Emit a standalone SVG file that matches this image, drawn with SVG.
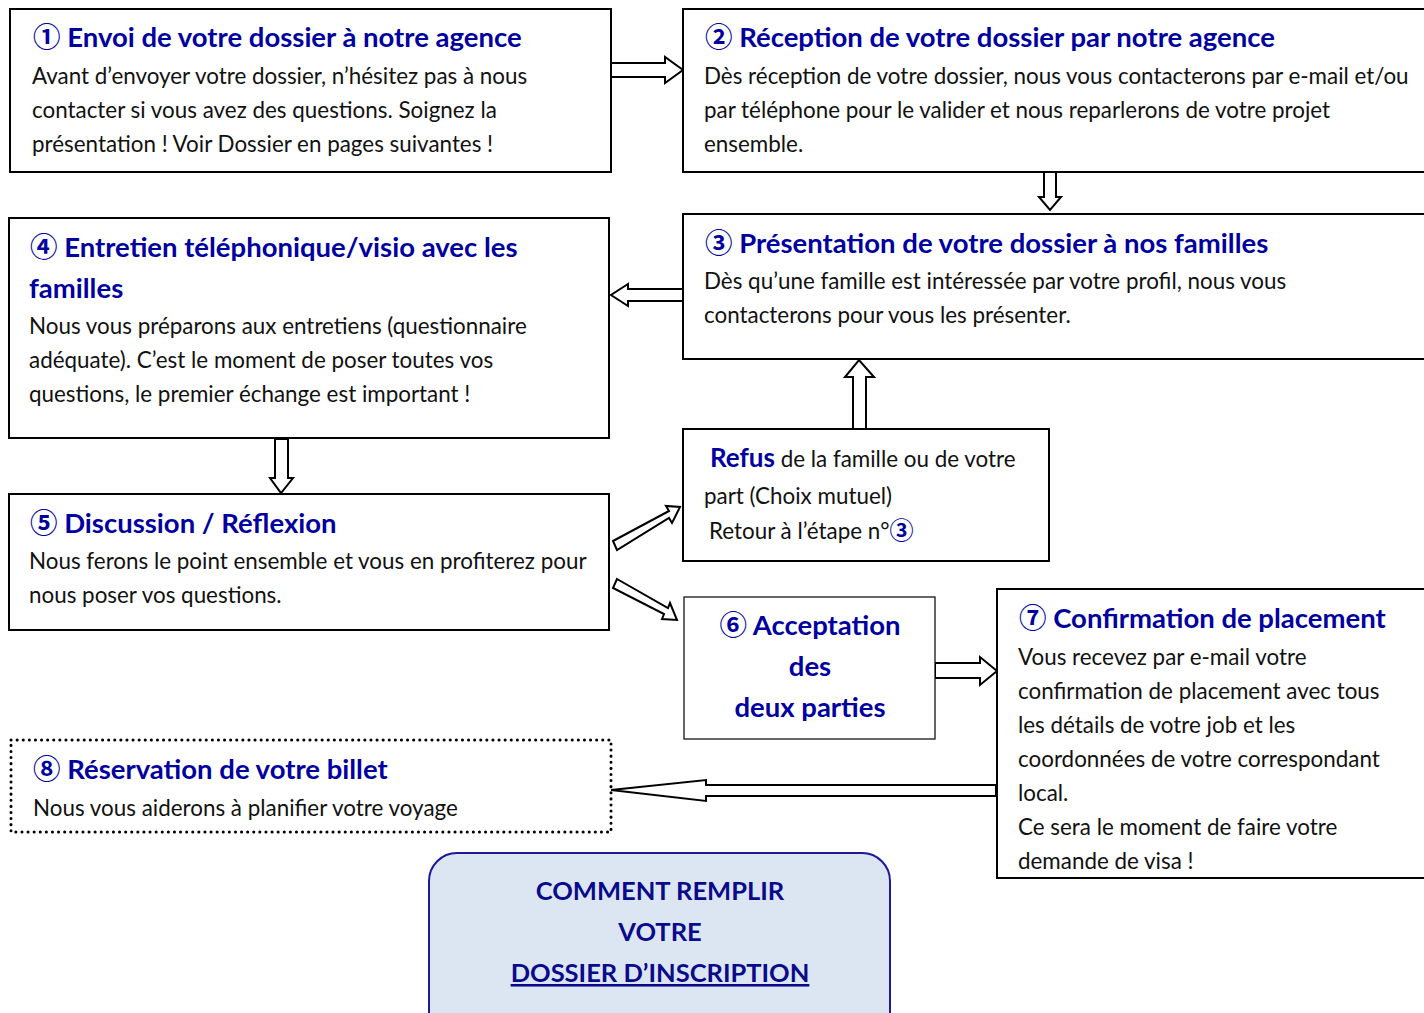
<svg xmlns="http://www.w3.org/2000/svg" width="1424" height="1013" viewBox="0 0 1424 1013">
<style>
.box{fill:#fff;stroke:#000;stroke-width:2}
.dot{fill:#fff;stroke:#000;stroke-width:3;stroke-dasharray:0.1 6;stroke-linecap:round}
.t{font-family:Lato,"Liberation Sans",sans-serif;font-weight:bold;font-size:27.5px;fill:#0000a0}
.b{font-family:Lato,"Liberation Sans",sans-serif;font-size:22.4px;fill:#111}
.c{font-family:"Noto Sans CJK JP","DejaVu Sans",sans-serif;font-weight:bold}
.arr{fill:#fff;stroke:#000;stroke-width:2;stroke-linejoin:miter}
.fin{font-family:Lato,"Liberation Sans",sans-serif;font-weight:bold;font-size:25.5px;fill:#0a0a8c;text-anchor:middle}
</style>
<rect width="1424" height="1013" fill="#fff"/>
<g id="connectors">
<polygon class="arr" points="611,63 665,63 665,57 683,70 665,83 665,77 611,77"/>
<polygon class="arr" points="1044,172 1056,172 1056,197 1061,197 1050,210 1039,197 1044,197"/>
<polygon class="arr" points="683,289 628,289 628,284 611,295 628,306 628,301 683,301"/>
<polygon class="arr" points="275,439 288,439 288,478 293,478 281,493 270,478 275,478"/>
<polygon class="arr" points="853,429 866,429 866,377 874,377 859,360 845,377 853,377"/>
<polygon class="arr" points="613,541 669,511 666,506 680,507 672,523 669,518 617,550"/>
<polygon class="arr" points="617,579 668,608 670,603 677,620 662,619 664,614 613,588"/>
<polygon class="arr" points="935,663 980,663 980,657 997,671 980,685 980,678 935,678"/>
<polygon class="arr" points="996,785 706,785 706,780 611,790 706,801 706,796 996,796"/>
</g>
<g id="n1">
<rect class="box" x="10" y="9" width="601" height="163"/>
<text class="t" x="33" y="47"><tspan class="c">①</tspan> Envoi de votre dossier à notre agence</text>
<text class="b" x="32" y="84">Avant d’envoyer votre dossier, n’hésitez pas à nous</text>
<text class="b" x="32" y="118">contacter si vous avez des questions. Soignez la</text>
<text class="b" x="32" y="152">présentation ! Voir Dossier en pages suivantes !</text>
</g>
<g id="n2">
<rect class="box" x="683" y="9" width="760" height="163"/>
<text class="t" x="705" y="47"><tspan class="c">②</tspan> Réception de votre dossier par notre agence</text>
<text class="b" x="704" y="84">Dès réception de votre dossier, nous vous contacterons par e-mail et/ou</text>
<text class="b" x="704" y="118">par téléphone pour le valider et nous reparlerons de votre projet</text>
<text class="b" x="704" y="152">ensemble.</text>
</g>
<g id="n3">
<rect class="box" x="683" y="214" width="760" height="145"/>
<text class="t" x="705" y="253"><tspan class="c">③</tspan> Présentation de votre dossier à nos familles</text>
<text class="b" x="704" y="289">Dès qu’une famille est intéressée par votre profil, nous vous</text>
<text class="b" x="704" y="323">contacterons pour vous les présenter.</text>
</g>
<g id="n4">
<rect class="box" x="9" y="218" width="600" height="220"/>
<text class="t" x="30" y="257"><tspan class="c">④</tspan> Entretien téléphonique/visio avec les</text>
<text class="t" x="29" y="298">familles</text>
<text class="b" x="29" y="334">Nous vous préparons aux entretiens (questionnaire</text>
<text class="b" x="29" y="368">adéquate). C’est le moment de poser toutes vos</text>
<text class="b" x="29" y="402">questions, le premier échange est important !</text>
</g>
<g id="n5">
<rect class="box" x="9" y="494" width="600" height="136"/>
<text class="t" x="30" y="533"><tspan class="c">⑤</tspan> Discussion / Réflexion</text>
<text class="b" x="29" y="569">Nous ferons le point ensemble et vous en profiterez pour</text>
<text class="b" x="29" y="603">nous poser vos questions.</text>
</g>
<g id="refus">
<rect class="box" x="683" y="429" width="366" height="132"/>
<text class="b" x="710" y="467"><tspan class="t" style="font-size:26px">Refus</tspan> de la famille ou de votre</text>
<text class="b" x="704" y="504">part (Choix mutuel)</text>
<text class="b" x="709" y="539">Retour à l’étape n°<tspan class="c" style="fill:#0000a0;font-size:24px">③</tspan></text>
</g>
<g id="n6">
<rect class="box" x="684" y="597" width="251" height="142" style="stroke-width:1.2"/>
<text class="t" x="810" y="635" text-anchor="middle"><tspan class="c">⑥</tspan> Acceptation</text>
<text class="t" x="810" y="676" text-anchor="middle">des</text>
<text class="t" x="810" y="717" text-anchor="middle">deux parties</text>
</g>
<g id="n7">
<rect class="box" x="997" y="589" width="446" height="289"/>
<text class="t" x="1019" y="628"><tspan class="c">⑦</tspan> Confirmation de placement</text>
<text class="b" x="1018" y="665">Vous recevez par e-mail votre</text>
<text class="b" x="1018" y="699">confirmation de placement avec tous</text>
<text class="b" x="1018" y="733">les détails de votre job et les</text>
<text class="b" x="1018" y="767">coordonnées de votre correspondant</text>
<text class="b" x="1018" y="801">local.</text>
<text class="b" x="1018" y="835">Ce sera le moment de faire votre</text>
<text class="b" x="1018" y="869">demande de visa !</text>
</g>
<g id="n8">
<rect class="dot" x="11" y="740" width="600" height="92"/>
<text class="t" x="33" y="779"><tspan class="c">⑧</tspan> Réservation de votre billet</text>
<text class="b" x="33" y="816">Nous vous aiderons à planifier votre voyage</text>
</g>
<g id="title">
<rect x="429" y="853" width="461" height="200" rx="28" ry="28" fill="#dce6f2" stroke="#1a1a9a" stroke-width="2"/>
<text class="fin" x="660" y="900">COMMENT REMPLIR</text>
<text class="fin" x="660" y="941">VOTRE</text>
<text class="fin" x="660" y="982" text-decoration="underline">DOSSIER D’INSCRIPTION</text>
</g>
</svg>
